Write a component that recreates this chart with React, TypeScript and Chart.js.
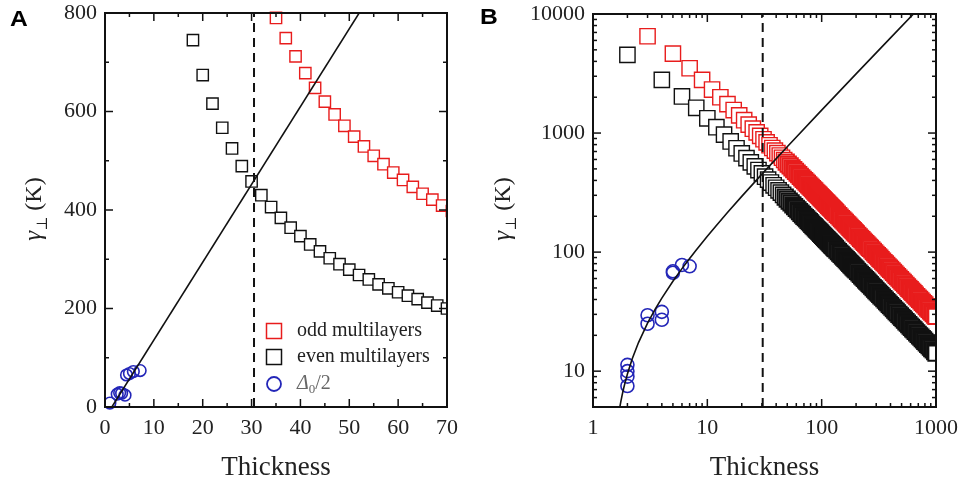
import { useEffect, useRef } from 'react';
import { Chart, registerables } from 'chart.js';

Chart.register(...registerables);

// ---- data ----------------------------------------------------------------
// even multilayers: thickness N and gamma_perp (K)
const evenN = [
  2, 4, 6, 8, 10, 12, 14, 16, 18, 20, 22, 24, 26, 28, 30, 32, 34, 36, 38, 40,
  42, 44, 46, 48, 50, 52, 54, 56, 58, 60, 62, 64, 66, 68, 70, 72, 74, 76, 78, 80,
  82, 84, 86, 88, 90, 92, 94, 96, 98, 100,
  102, 104, 106, 108, 110, 112, 114, 116, 118, 120, 122, 124, 126, 128, 130, 132,
  136, 140, 144, 148, 152, 156, 160, 164, 168, 172, 176, 180, 184, 188, 192, 196, 200,
  206, 212, 218, 224, 230, 236, 242, 248, 254, 260, 266,
  274, 282, 290, 298, 306, 314, 322, 330,
  340, 350, 360, 370, 380, 390, 400,
  412, 424, 436, 448, 460,
  474, 488, 502, 516, 530,
  546, 562, 578, 594, 610, 626, 642, 658,
  678, 698, 718, 738, 758, 778, 798,
  822, 846, 870, 894, 918,
  946, 974, 1000,
];
const evenT = [
  4540, 2800, 2030, 1630, 1330, 1120, 970, 850, 745, 674, 616, 567, 525, 489, 458, 430, 406, 384, 364, 347,
  330, 316, 302, 290, 279, 268, 259, 249, 241, 233, 226, 219, 212, 206, 200, 195, 190, 185, 180, 176,
  171, 167, 164, 160, 156, 153, 150, 147, 144, 141,
  138.2, 135.5, 133.0, 130.6, 128.2, 126.0, 123.8, 121.7, 119.6, 117.6, 115.7, 113.9, 112.1, 110.4, 108.7, 107.0,
  103.9, 101.0, 98.2, 95.6, 93.1, 90.7, 88.4, 86.3, 84.3, 82.3, 80.5, 78.7, 77.0, 75.3, 73.8, 72.3, 70.9,
  68.8, 66.9, 65.0, 63.3, 61.7, 60.1, 58.6, 57.2, 55.9, 54.6, 53.4,
  51.8, 50.3, 49.0, 47.6, 46.4, 45.2, 44.1, 43.0,
  41.8, 40.6, 39.5, 38.4, 37.4, 36.4, 35.5,
  34.5, 33.5, 32.6, 31.7, 30.9,
  30.0, 29.1, 28.3, 27.6, 26.8,
  26.0, 25.3, 24.6, 23.9, 23.3, 22.7, 22.2, 21.6,
  21.0, 20.4, 19.8, 19.3, 18.8, 18.3, 17.8,
  17.3, 16.8, 16.4, 15.9, 15.5,
  15.1, 14.6, 14.2,
];

// odd multilayers
const oddN = [
  3, 5, 7, 9, 11, 13, 15, 17, 19, 21, 23, 25, 27, 29, 31, 33, 35, 37, 39, 41,
  43, 45, 47, 49, 51, 53, 55, 57, 59, 61, 63, 65, 67, 69, 71, 73, 75, 77, 79, 81,
  83, 85, 87, 89, 91, 93, 95, 97, 99,
  101, 103, 105, 107, 109, 111, 113, 115, 117, 119, 121, 123, 125, 127, 129, 131, 133,
  137, 141, 145, 149, 153, 157, 161, 165, 169, 173, 177, 181, 185, 189, 193, 197, 201,
  207, 213, 219, 225, 231, 237, 243, 249, 255, 261, 267,
  275, 283, 291, 299, 307, 315, 323, 331,
  341, 351, 361, 371, 381, 391, 401,
  413, 425, 437, 449, 461,
  475, 489, 503, 517, 531,
  547, 563, 579, 595, 611, 627, 643, 659,
  679, 699, 719, 739, 759, 779, 799,
  823, 847, 871, 895, 919,
  947, 975, 999,
];
const oddT = [
  6500, 4650, 3500, 2800, 2320, 2000, 1750, 1560, 1408, 1282, 1177, 1088, 1012, 946, 887, 836, 790, 749, 712, 678,
  648, 620, 594, 571, 549, 529, 510, 493, 476, 461, 447, 433, 421, 409, 398, 387, 377, 367, 358, 349,
  341, 333, 326, 318, 312, 305, 299, 293, 287,
  281.1, 275.7, 270.5, 265.5, 260.7, 256.1, 251.6, 247.3, 243.1, 239.1, 235.2, 231.4, 227.7, 224.2, 220.8, 217.4, 214.2,
  208.0, 202.2, 196.6, 191.4, 186.5, 181.7, 177.3, 173.0, 169.0, 165.1, 161.4, 157.8, 154.5, 151.2, 148.1, 145.1, 142.2,
  138.2, 134.3, 130.6, 127.2, 123.9, 120.8, 117.8, 115.0, 112.3, 109.7, 107.3,
  104.2, 101.2, 98.5, 95.9, 93.4, 91.0, 88.8, 86.6,
  84.1, 81.7, 79.5, 77.3, 75.3, 73.4, 71.6,
  69.5, 67.5, 65.7, 63.9, 62.3,
  60.5, 58.7, 57.1, 55.6, 54.1,
  52.5, 51.0, 49.6, 48.3, 47.0, 45.8, 44.7, 43.6,
  42.3, 41.1, 40.0, 38.9, 37.9, 36.9, 36.0,
  34.9, 33.9, 33.0, 32.1, 31.3,
  30.4, 29.5, 28.8,
];

// half superconducting gap, Delta_0 / 2 (K)
const gapA_N = [1.0, 2.5, 3.0, 3.4, 4.1, 4.4, 5.0, 5.8, 7.2];
const gapA_T = [8, 26, 29, 28, 24, 65, 68, 72, 74];
const gapB_N = [2, 2, 2, 2, 3, 3, 4, 4, 5, 5, 6, 7];
const gapB_T = [11.3, 10.0, 9.0, 7.5, 29.5, 25.0, 31.5, 27.0, 69, 67, 78, 76];

// linear fit through the gap data
const fitA_N = [1.4, 60];
const fitA_T = [0, 926];
const fitB_N = [1.7, 1.75, 1.8, 1.85, 1.9, 2, 2.2, 2.5, 3, 3.5, 4, 5, 6, 7, 8, 10, 12, 15, 20, 30, 50, 100, 200, 400, 650];
const fitB_T = [4.74, 5.53, 6.32, 7.11, 7.9, 9.48, 12.64, 17.38, 25.28, 33.18, 41.08, 56.88, 72.68, 88.48, 104.3, 135.9, 167.5, 214.9, 293.9, 451.9, 767.9, 1558, 3138, 6298, 10248];

// crossover thickness
const CROSS_N = 30.5;

// axis ranges and ticks
const xRangeA = [0, 70];
const yRangeA = [0, 800];
const xTicksA = [0, 10, 20, 30, 40, 50, 60, 70];
const xMinorA = [5, 15, 25, 35, 45, 55, 65];
const yTicksA = [0, 200, 400, 600, 800];
const yMinorA = [100, 300, 500, 700];

const xRangeB = [1, 1000];
const yRangeB = [5, 10000];
const xTicksB = [1, 10, 100, 1000];
const xMinorB = [2, 3, 4, 5, 6, 7, 8, 9, 20, 30, 40, 50, 60, 70, 80, 90, 200, 300, 400, 500, 600, 700, 800, 900];
const yTicksB = [10, 100, 1000, 10000];
const yMinorB = [5, 6, 7, 8, 9, 20, 30, 40, 50, 60, 70, 80, 90, 200, 300, 400, 500, 600, 700, 800, 900,
  2000, 3000, 4000, 5000, 6000, 7000, 8000, 9000];

const LABEL_ODD = 'odd multilayers';
const LABEL_EVEN = 'even multilayers';
const LABEL_GAP = 'Δ0/2';
const X_TITLE = 'Thickness';

// ---- styling -------------------------------------------------------------
const RED = '#e81c1c';
const INK = '#111111';
const BLUE = '#2326b8';
const SERIF = "'Liberation Serif', 'DejaVu Serif', serif";
const SANS = "'Liberation Sans', Arial, sans-serif";

type Pt = { x: number; y: number };
const pts = (xs: number[], ys: number[]): Pt[] => xs.map((x, i) => ({ x, y: ys[i] }));

// open squares; thick outlines past `denseFrom` so overlapping markers merge into a band
function squares(label: string, xs: number[], ys: number[], color: string, r: number, order: number,
  denseFrom: number, clip: any) {
  return {
    label,
    data: pts(xs, ys),
    showLine: false,
    pointStyle: 'rect',
    pointRadius: r,
    pointBorderWidth: (c: any) => (c.raw && c.raw.x >= denseFrom ? 2 : 1.4),
    pointBorderColor: color,
    pointBackgroundColor: '#ffffff',
    clip,
    order,
  };
}

function circles(xs: number[], ys: number[], r: number, order: number) {
  return {
    label: LABEL_GAP,
    data: pts(xs, ys),
    showLine: false,
    pointStyle: 'circle',
    pointRadius: r,
    pointBorderWidth: 1.6,
    pointBorderColor: BLUE,
    pointBackgroundColor: 'rgba(0,0,0,0)',
    clip: { left: 0, top: 0, right: 0, bottom: 3 },
    order,
  };
}

function line(label: string, data: Pt[], width: number, dash: number[], order: number) {
  return {
    label,
    data,
    showLine: true,
    borderColor: INK,
    borderWidth: width,
    borderDash: dash,
    pointRadius: 0,
    clip: 0,
    order,
  };
}

// frame, inward ticks, y title, panel letter, legend
const decor = {
  id: 'decor',
  afterDraw(chart: any, _args: any, o: any) {
    const { ctx, chartArea: a } = chart;
    const xs = chart.scales.x;
    const ys = chart.scales.y;
    ctx.save();
    ctx.strokeStyle = INK;
    const seg = (x1: number, y1: number, x2: number, y2: number) => {
      ctx.beginPath();
      ctx.moveTo(x1, y1);
      ctx.lineTo(x2, y2);
      ctx.stroke();
    };
    ctx.lineWidth = 1.5;
    const xt = (vals: number[], len: number) => vals.forEach((v) => {
      const p = xs.getPixelForValue(v);
      seg(p, a.bottom, p, a.bottom - len);
      seg(p, a.top, p, a.top + len);
    });
    const yt = (vals: number[], len: number) => vals.forEach((v) => {
      const p = ys.getPixelForValue(v);
      seg(a.left, p, a.left + len, p);
      seg(a.right, p, a.right - len, p);
    });
    xt(o.xMajor, 8);
    xt(o.xMinor, 4);
    yt(o.yMajor, 8);
    yt(o.yMinor, 4);
    ctx.lineWidth = 2;
    ctx.strokeRect(a.left, a.top, a.right - a.left, a.bottom - a.top);

    // y axis title: gamma_perp (K)
    ctx.save();
    ctx.translate(o.titleX, o.titleY);
    ctx.rotate(-Math.PI / 2);
    ctx.fillStyle = '#222';
    ctx.textBaseline = 'alphabetic';
    ctx.font = `italic 25px ${SERIF}`;
    const w1 = ctx.measureText('γ').width;
    ctx.font = `15px ${SERIF}`;
    const w2 = ctx.measureText('⊥').width;
    ctx.font = `24px ${SERIF}`;
    const w3 = ctx.measureText(' (K)').width;
    let x = -(w1 + w2 + w3) / 2;
    ctx.font = `italic 25px ${SERIF}`;
    ctx.fillText('γ', x, 0);
    x += w1;
    ctx.font = `15px ${SERIF}`;
    ctx.fillText('⊥', x, 6);
    x += w2;
    ctx.font = `24px ${SERIF}`;
    ctx.fillText(' (K)', x, 0);
    ctx.restore();

    // panel letter
    ctx.save();
    ctx.fillStyle = '#000';
    ctx.font = `bold 22px ${SANS}`;
    ctx.textBaseline = 'alphabetic';
    ctx.translate(o.letterX, o.letterY);
    ctx.scale(1.12, 1);
    ctx.fillText(o.letter, 0, 0);
    ctx.restore();

    if (o.legend) {
      const lx = o.legendX;
      const tx = o.legendTextX;
      ctx.lineWidth = 1.5;
      const rows = o.legendRows;
      ctx.strokeStyle = RED;
      ctx.strokeRect(lx - 7.5, rows[0] - 7.5, 15, 15);
      ctx.strokeStyle = INK;
      ctx.strokeRect(lx - 7.5, rows[1] - 7.5, 15, 15);
      ctx.strokeStyle = BLUE;
      ctx.lineWidth = 1.8;
      ctx.beginPath();
      ctx.arc(lx, rows[2], 7, 0, Math.PI * 2);
      ctx.stroke();
      ctx.textBaseline = 'middle';
      ctx.fillStyle = '#222';
      ctx.font = `20px ${SERIF}`;
      ctx.fillText(LABEL_ODD, tx, rows[0]);
      ctx.fillText(LABEL_EVEN, tx, rows[1]);
      // Delta_0 / 2
      ctx.fillStyle = '#666';
      ctx.font = `italic 20px ${SERIF}`;
      ctx.fillText('Δ', tx, rows[2]);
      let gx = tx + ctx.measureText('Δ').width;
      ctx.font = `13px ${SERIF}`;
      ctx.fillText('0', gx, rows[2] + 6);
      gx += ctx.measureText('0').width;
      ctx.font = `20px ${SERIF}`;
      ctx.fillText('/2', gx, rows[2]);
    }
    ctx.restore();
  },
};

const tickFont = { family: SERIF, size: 22 };
const titleFont = { family: SERIF, size: 27 };

function axis(type: string, range: number[], ticks: number[], isX: boolean, size: number) {
  const base: any = {
    type,
    min: range[0],
    max: range[1],
    grid: { display: false, drawTicks: false },
    border: { display: false },
    ticks: {
      padding: 8,
      color: '#222',
      font: tickFont,
      autoSkip: false,
      maxRotation: 0,
      callback: (v: number) => String(v),
    },
    afterBuildTicks: (s: any) => {
      s.ticks = ticks.map((value) => ({ value }));
    },
  };
  if (isX) {
    base.title = { display: true, text: X_TITLE, color: '#222', font: titleFont, padding: { top: 0, bottom: 2 } };
  }
  base.afterFit = (s: any) => {
    if (isX) s.height = size;
    else s.width = size;
    // the layout paddings below already leave room for the end labels
    s.paddingTop = 0;
    s.paddingBottom = 0;
    s.paddingLeft = 0;
    s.paddingRight = 0;
  };
  return base;
}

function configA(): any {
  const sqClip = { left: 0, top: 10, right: 0, bottom: 0 };
  return {
    type: 'scatter',
    data: {
      datasets: [
        line('fit', pts(fitA_N, fitA_T), 1.6, [], 0),
        line('crossover', [{ x: CROSS_N, y: yRangeA[0] }, { x: CROSS_N, y: yRangeA[1] }], 2, [9, 6], 1),
        circles(gapA_N, gapA_T, 5.8, 2),
        squares(LABEL_ODD, oddN, oddT, RED, 8, 3, Infinity, sqClip),
        squares(LABEL_EVEN, evenN, evenT, INK, 8, 4, Infinity, sqClip),
      ],
    },
    options: {
      responsive: false,
      animation: false,
      devicePixelRatio: 1,
      events: [],
      layout: { padding: { top: 13, right: 33, left: 0, bottom: 0 } },
      plugins: {
        legend: { display: false },
        tooltip: { enabled: false },
        decor: {
          xMajor: xTicksA, xMinor: xMinorA, yMajor: yTicksA, yMinor: yMinorA,
          titleX: 41, titleY: 209, letter: 'A', letterX: 10, letterY: 26,
          legend: true, legendX: 274, legendTextX: 297, legendRows: [331, 357, 384],
        },
      },
      scales: {
        x: axis('linear', xRangeA, xTicksA, true, 79),
        y: axis('linear', yRangeA, yTicksA, false, 105),
      },
    },
    plugins: [decor],
  };
}

function configB(): any {
  const sqClip = 0;
  return {
    type: 'scatter',
    data: {
      datasets: [
        line('fit', pts(fitB_N, fitB_T), 1.6, [], 0),
        line('crossover', [{ x: CROSS_N, y: yRangeB[0] }, { x: CROSS_N, y: yRangeB[1] }], 2, [9, 6], 1),
        circles(gapB_N, gapB_T, 6.5, 2),
        squares(LABEL_ODD, oddN, oddT, RED, 10.8, 3, 48, sqClip),
        squares(LABEL_EVEN, evenN, evenT, INK, 10.8, 4, 48, sqClip),
      ],
    },
    options: {
      responsive: false,
      animation: false,
      devicePixelRatio: 1,
      events: [],
      layout: { padding: { top: 14, right: 25, left: 0, bottom: 0 } },
      plugins: {
        legend: { display: false },
        tooltip: { enabled: false },
        decor: {
          xMajor: xTicksB, xMinor: xMinorB, yMajor: yTicksB, yMinor: yMinorB,
          titleX: 30, titleY: 209, letter: 'B', letterX: 0, letterY: 24,
          legend: false,
        },
      },
      scales: {
        x: axis('logarithmic', xRangeB, xTicksB, true, 79),
        y: axis('logarithmic', yRangeB, yTicksB, false, 113),
      },
    },
    plugins: [decor],
  };
}

export default function App() {
  const refA = useRef<HTMLCanvasElement>(null);
  const refB = useRef<HTMLCanvasElement>(null);

  useEffect(() => {
    const a = new Chart(refA.current as HTMLCanvasElement, configA());
    const b = new Chart(refB.current as HTMLCanvasElement, configB());
    return () => {
      a.destroy();
      b.destroy();
    };
  }, []);

  return (
    <div
      style={{
        position: 'absolute',
        left: 0,
        top: 0,
        width: 961,
        height: 486,
        background: '#ffffff',
        display: 'flex',
      }}
    >
      <canvas ref={refA} width={480} height={486} style={{ display: 'block', width: 480, height: 486 }} />
      <canvas ref={refB} width={481} height={486} style={{ display: 'block', width: 481, height: 486 }} />
    </div>
  );
}
